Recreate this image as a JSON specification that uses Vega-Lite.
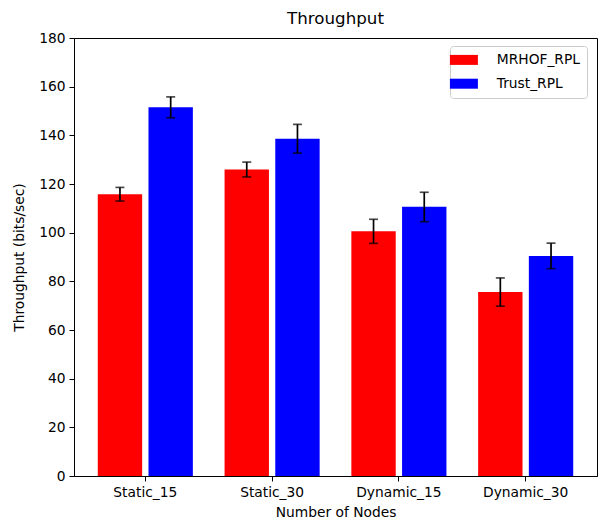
{
  "$schema": "https://vega.github.io/schema/vega-lite/v6.json",
  "width": 523,
  "height": 438,
  "autosize": "none",
  "padding": {"left": 74, "top": 38, "right": 6, "bottom": 53},
  "background": "white",
  "title": {
    "text": "Throughput",
    "font": "DejaVu Sans",
    "fontSize": 16.7,
    "fontWeight": "normal",
    "color": "black",
    "offset": 3
  },
  "data": {
    "values": [
      {"nodes": "Static_15", "protocol": "MRHOF_RPL", "throughput": 115.8, "low": 113.0, "high": 118.6},
      {"nodes": "Static_15", "protocol": "Trust_RPL", "throughput": 151.5, "low": 147.2, "high": 155.8},
      {"nodes": "Static_30", "protocol": "MRHOF_RPL", "throughput": 126.0, "low": 122.9, "high": 129.0},
      {"nodes": "Static_30", "protocol": "Trust_RPL", "throughput": 138.6, "low": 132.7, "high": 144.5},
      {"nodes": "Dynamic_15", "protocol": "MRHOF_RPL", "throughput": 100.6, "low": 95.6, "high": 105.5},
      {"nodes": "Dynamic_15", "protocol": "Trust_RPL", "throughput": 110.6, "low": 104.5, "high": 116.6},
      {"nodes": "Dynamic_30", "protocol": "MRHOF_RPL", "throughput": 75.6, "low": 69.8, "high": 81.4},
      {"nodes": "Dynamic_30", "protocol": "Trust_RPL", "throughput": 90.4, "low": 85.2, "high": 95.7}
    ]
  },
  "encoding": {
    "x": {
      "field": "nodes",
      "type": "nominal",
      "sort": ["Static_15", "Static_30", "Dynamic_15", "Dynamic_30"],
      "scale": {"paddingInner": 0, "paddingOuter": 0.0625},
      "axis": {"title": "Number of Nodes", "labelAngle": 0, "labelPadding": 4, "titlePadding": 7}
    },
    "xOffset": {
      "field": "protocol",
      "type": "nominal",
      "scale": {"paddingInner": 0.125, "paddingOuter": 0.3125}
    }
  },
  "layer": [
    {
      "mark": {"type": "bar"},
      "encoding": {
        "y": {
          "field": "throughput",
          "type": "quantitative",
          "scale": {"domain": [0, 180], "nice": false},
          "axis": {"title": "Throughput (bits/sec)", "values": [0, 20, 40, 60, 80, 100, 120, 140, 160, 180], "labelPadding": 4, "titlePadding": 12}
        },
        "color": {
          "field": "protocol",
          "type": "nominal",
          "scale": {"domain": ["MRHOF_RPL", "Trust_RPL"], "range": ["#ff0000", "#0000ff"]},
          "legend": {
            "title": null,
            "orient": "none",
            "legendX": 376,
            "legendY": 8,
            "symbolType": "M-2.8,-1H2.8V1H-2.8Z",
            "symbolSize": 100,
            "symbolStrokeWidth": 0,
            "symbolOpacity": 1,
            "labelFont": "DejaVu Sans",
            "labelFontSize": 13.8,
            "labelColor": "black",
            "labelOffset": 26,
            "rowPadding": 8.8,
            "padding": 7,
            "strokeColor": "#cccccc",
            "fillColor": "rgba(255,255,255,0.8)",
            "cornerRadius": 3
          }
        }
      }
    },
    {
      "mark": {"type": "rule", "color": "black", "strokeWidth": 1.7},
      "encoding": {
        "y": {"field": "low", "type": "quantitative"},
        "y2": {"field": "high"}
      }
    },
    {
      "mark": {"type": "tick", "color": "black", "thickness": 1.7, "size": 9, "orient": "horizontal"},
      "encoding": {
        "y": {"field": "low", "type": "quantitative"}
      }
    },
    {
      "mark": {"type": "tick", "color": "black", "thickness": 1.7, "size": 9, "orient": "horizontal"},
      "encoding": {
        "y": {"field": "high", "type": "quantitative"}
      }
    }
  ],
  "config": {
    "view": {"stroke": "black", "strokeWidth": 1},
    "axis": {
      "grid": false,
      "labelFont": "DejaVu Sans",
      "labelFontSize": 13.8,
      "labelColor": "black",
      "titleFont": "DejaVu Sans",
      "titleFontSize": 13.8,
      "titleFontWeight": "normal",
      "titleColor": "black",
      "domainColor": "black",
      "domainWidth": 1,
      "tickColor": "black",
      "tickWidth": 1,
      "tickSize": 5
    }
  }
}
